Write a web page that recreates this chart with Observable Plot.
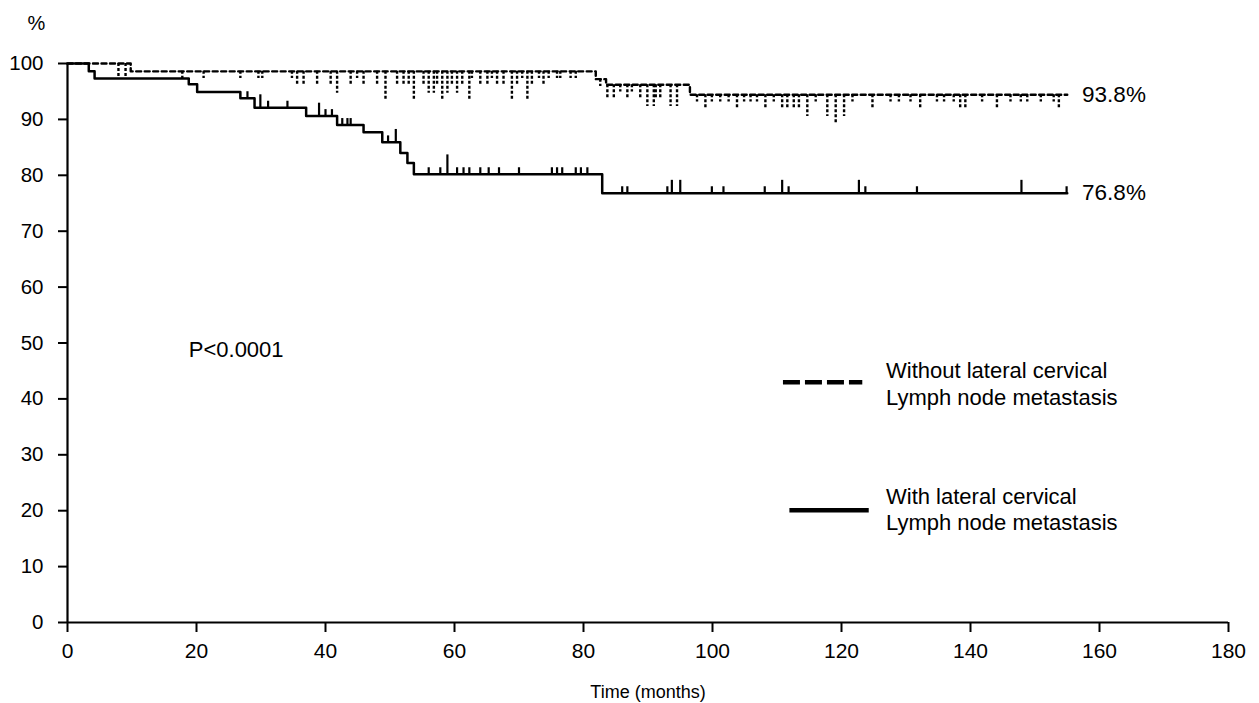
<!DOCTYPE html>
<html>
<head>
<meta charset="utf-8">
<script src="https://cdn.jsdelivr.net/npm/d3@7"></script>
<script src="https://cdn.jsdelivr.net/npm/@observablehq/plot@0.6"></script>
<style>
  html, body { margin: 0; padding: 0; background: #fff; }
  #chart { width: 1259px; height: 703px; }
</style>
</head>
<body>
<div id="chart"></div>
<script>
// ---- data ----
const xTicks = [0, 20, 40, 60, 80, 100, 120, 140, 160, 180];
const yTicks = [0, 10, 20, 30, 40, 50, 60, 70, 80, 90, 100];

// Without lateral cervical lymph node metastasis (dashed)
const withoutTimes = [0, 9.8, 81.9, 83.5, 96.5, 155];
const withoutSurv  = [100, 98.6, 97.2, 96.2, 94.4, 94.4];
const withoutCensorTimes = [7.9, 9.0, 17.8, 21.1, 26.8, 29.6, 30.2, 34.8, 35.6, 36.6, 38.7, 40.8, 41.8, 43.9, 44.9, 45.9, 48.0, 49.3, 51.1, 52.1, 52.9, 53.7, 55.2, 56.0, 56.8, 57.3, 58.1, 58.9, 59.6, 60.4, 61.2, 62.3, 62.7, 64.0, 65.1, 65.8, 66.6, 67.6, 68.9, 69.7, 70.5, 71.3, 72.0, 73.1, 73.8, 74.6, 75.9, 76.4, 78.0, 78.8, 82.6, 83.7, 84.7, 85.7, 86.8, 87.5, 88.8, 89.9, 90.9, 91.2, 91.9, 93.5, 94.5, 97.6, 98.9, 99.9, 101.2, 102.5, 103.8, 104.9, 105.9, 106.9, 108.2, 109.5, 110.8, 111.6, 112.6, 113.4, 114.7, 116.0, 117.8, 119.1, 120.4, 121.7, 124.8, 127.6, 128.9, 130.7, 132.2, 134.8, 135.9, 137.4, 138.4, 139.2, 141.8, 144.1, 146.2, 147.8, 148.8, 150.9, 152.9, 153.7];
const withoutCensorCounts = [2, 2, 1, 1, 1, 1, 1, 1, 2, 2, 2, 2, 3, 2, 1, 2, 2, 4, 2, 2, 2, 4, 2, 3, 3, 2, 4, 3, 2, 3, 2, 4, 1, 2, 2, 1, 2, 2, 4, 2, 1, 4, 2, 1, 2, 1, 1, 1, 1, 1, 1, 2, 2, 1, 2, 1, 2, 3, 3, 2, 2, 3, 3, 1, 2, 1, 1, 1, 2, 1, 1, 1, 2, 1, 2, 2, 2, 2, 3, 1, 3, 4, 3, 1, 2, 1, 1, 1, 2, 1, 1, 1, 2, 2, 1, 2, 1, 1, 1, 1, 1, 2];

// With lateral cervical lymph node metastasis (solid)
const withTimes = [0, 3.3, 4.2, 18.8, 20.1, 26.8, 29.0, 37.0, 41.8, 45.9, 48.8, 51.6, 52.7, 53.7, 82.9, 155];
const withSurv  = [100, 98.6, 97.3, 96.3, 94.9, 93.8, 92.1, 90.6, 89.0, 87.7, 85.9, 84.0, 82.2, 80.2, 76.8, 76.8];
const withCensorTimes = [27.9, 29.9, 31.1, 34.1, 39.0, 40.0, 41.0, 42.6, 43.4, 43.9, 49.7, 50.9, 56.0, 57.8, 58.9, 60.4, 61.4, 62.3, 64.0, 65.3, 66.9, 70.0, 75.1, 75.9, 76.7, 78.8, 79.6, 80.6, 86.0, 86.8, 93.0, 93.7, 95.0, 99.9, 101.7, 108.1, 110.8, 111.8, 122.7, 123.7, 131.7, 147.9, 154.9];
const withCensorCounts = [1, 2, 1, 1, 2, 1, 1, 1, 1, 1, 1, 2, 1, 1, 3, 1, 1, 1, 1, 1, 1, 1, 1, 1, 1, 1, 1, 1, 1, 1, 1, 2, 2, 1, 1, 1, 2, 1, 2, 1, 1, 2, 1];

const seriesLabels = ["Without lateral cervical\nLymph node metastasis", "With lateral cervical\nLymph node metastasis"];
const endLabels = ["93.8%", "76.8%"];
const pText = "P<0.0001";
const xTitle = "Time (months)";
const yTitle = "%";

// ---- build tables ----
function stepAt(times, surv, t) {
  let v = surv[0];
  for (let i = 0; i < times.length; i++) if (times[i] <= t) v = surv[i];
  return v;
}
const withoutCurve = withoutTimes.map((t, i) => ({t, s: withoutSurv[i]}));
const withCurve = withTimes.map((t, i) => ({t, s: withSurv[i]}));
const TICK_UNIT_DOWN = 1.3;
const TICK_UNIT_UP = 1.15;
const withoutCensor = withoutCensorTimes.map((t, i) => {
  const s = stepAt(withoutTimes, withoutSurv, t);
  return {t, y1: s, y2: s - withoutCensorCounts[i] * TICK_UNIT_DOWN};
});
const withCensor = withCensorTimes.map((t, i) => {
  const s = stepAt(withTimes, withSurv, t);
  return {t, y1: s, y2: s + withCensorCounts[i] * TICK_UNIT_UP};
});

const font = "'Liberation Sans', Arial, Helvetica, sans-serif";

const chart = Plot.plot({
  width: 1259,
  height: 703,
  marginLeft: 67,
  marginRight: 31,
  marginTop: 63,
  marginBottom: 81,
  style: {fontFamily: font, fontSize: "21px", color: "#000", background: "#fff", overflow: "visible"},
  x: {domain: [0, 180]},
  y: {domain: [0, 100]},
  marks: [
    Plot.axisX({ticks: xTicks, tickSize: 10, tickPadding: 11, label: null, strokeWidth: 2, fontSize: 21}),
    Plot.axisY({ticks: yTicks, tickSize: 9, tickPadding: 15, label: null, strokeWidth: 2, fontSize: 20.5}),
    Plot.ruleY([0], {stroke: "#000", strokeWidth: 2}),
    Plot.ruleX([0], {y1: 0, y2: 100, stroke: "#000", strokeWidth: 2.2}),
    // curves
    Plot.line(withoutCurve, {x: "t", y: "s", curve: "step-after", stroke: "#000", strokeWidth: 2.4, strokeDasharray: "5,3.5"}),
    Plot.line(withCurve, {x: "t", y: "s", curve: "step-after", stroke: "#000", strokeWidth: 2.5}),
    // censor marks
    Plot.ruleX(withoutCensor, {x: "t", y1: "y1", y2: "y2", stroke: "#000", strokeWidth: 2.4, strokeDasharray: "3,2"}),
    Plot.ruleX(withCensor, {x: "t", y1: "y1", y2: "y2", stroke: "#000", strokeWidth: 2.2}),
    // end labels
    Plot.text([endLabels[0]], {x: 157.3, y: withoutSurv[withoutSurv.length - 1], text: d => d, textAnchor: "start", fontSize: 22.5, fill: "#000"}),
    Plot.text([endLabels[1]], {x: 157.3, y: withSurv[withSurv.length - 1], text: d => d, textAnchor: "start", fontSize: 22.5, fill: "#000"}),
    // p-value
    Plot.text([pText], {x: 18.8, y: 48.7, text: d => d, textAnchor: "start", fontSize: 22, fill: "#000"}),
    // legend
    Plot.ruleY([43.0], {x1: 111, x2: 123.3, stroke: "#000", strokeWidth: 4.5, strokeDasharray: "17,5"}),
    Plot.ruleY([20.1], {x1: 112, x2: 124.3, stroke: "#000", strokeWidth: 4.5}),
    Plot.text([seriesLabels[0]], {x: 126.9, y: 42.8, text: d => d, textAnchor: "start", lineAnchor: "middle", lineHeight: 1.2, fontSize: 22, fill: "#000"}),
    Plot.text([seriesLabels[1]], {x: 126.9, y: 20.4, text: d => d, textAnchor: "start", lineAnchor: "middle", lineHeight: 1.2, fontSize: 22, fill: "#000"}),
    // axis titles
    Plot.text([xTitle], {frameAnchor: "bottom", dy: 75, text: d => d, fontSize: 18, fill: "#000"}),
    Plot.text([yTitle], {frameAnchor: "top-left", textAnchor: "middle", dx: -31, dy: -48, text: d => d, fontSize: 20, fill: "#000"})
  ]
});
document.getElementById("chart").appendChild(chart);
</script>
</body>
</html>
